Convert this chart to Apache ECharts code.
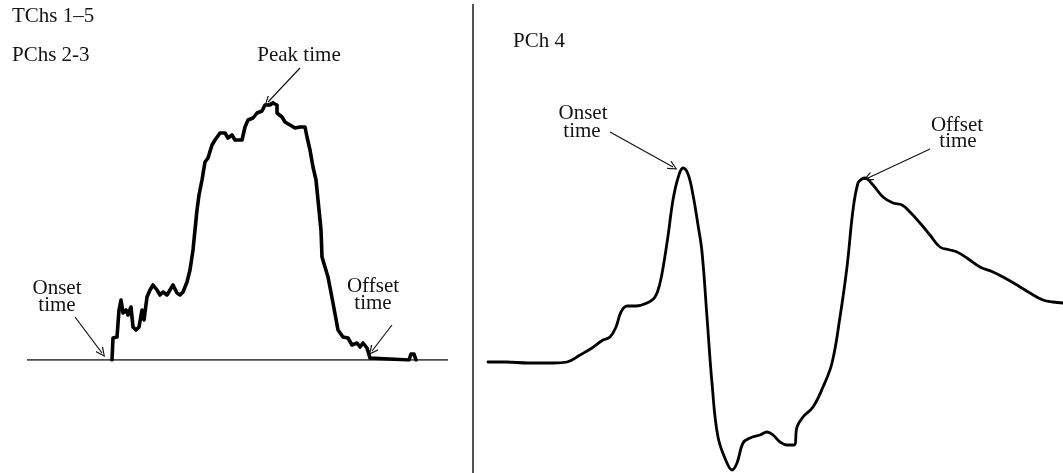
<!DOCTYPE html>
<html>
<head>
<meta charset="utf-8">
<script src="https://cdn.jsdelivr.net/npm/echarts@6/dist/echarts.min.js"></script>
<style>
html,body{margin:0;padding:0;background:#fff;}
#chart{width:1063px;height:473px;}
</style>
</head>
<body>
<div id="chart"></div>
<script>
// ---- Left panel (TChs 1–5 / PChs 2-3): stepped envelope ----
const leftTime = [85,86,90,92,94,96,99,101,104,106,109,112,115,117,120,123,126,130,133,136,140,143,146,150,153,156,160,163,166,168,170,172,175,178,181,185,188,193,198,201,205,208,215,218,221,226,230,235,238,243,246,250,250,255,258,263,268,273,278,280,283,286,289,291,294,295,301,306,311,316,321,325,330,333,336,340,343,345,382,384,387,389];
const leftAmp  = [0,22,23,50,60,47,50,45,53,33,30,33,50,40,63,70,75,70,65,68,65,70,75,67,65,68,78,90,110,130,150,165,180,198,202,215,220,227,227,222,225,220,220,233,240,242,247,249,255,255,257,255,247,243,238,235,232,233,233,223,210,193,180,160,130,103,83,57,30,23,22,15,17,13,17,12,2,0,0,6,6,0];
const leftBaseTime = [0,421];
const leftBaseAmp  = [0,0];

// ---- Right panel (PCh 4): smooth waveform ----
const rightTime = [1,19,41,67,80,93,105,116,123,129,134,140,149,160,168,173,177,181,186,191,196,201,206,211,215,220,225,231,240,245,250,256,263,273,280,286,293,300,307,310,316,326,336,345,353,360,366,371,375,378,386,396,406,415,423,433,443,453,463,470,480,493,506,516,530,543,556,566,576];
const rightAmp  = [0,0,-1,-1,0,7,14,22,25,35,50,56,56,59,65,79,100,126,162,184,194,188,167,137,110,45,-21,-75,-101,-108,-101,-81,-76,-73,-70,-73,-80,-83,-83,-65,-55,-45,-25,-1,45,95,152,179,183,184,177,165,159,157,150,139,127,115,112,110,104,95,90,85,77,69,62,60,59];

// ---- Annotations (arrow start -> arrow tip, in data units) ----
const leftArrows = [
  [[273,292],[241,258]],   // Peak time
  [[48,43],[75,7]],        // Onset time
  [[365,35],[345,9]]       // Offset time
];
const rightArrows = [
  [[123,230],[186,195]],   // Onset time
  [[443,213],[381,184]]    // Offset time
];
const panelTitles = ['TChs 1–5', 'PChs 2-3', 'PCh 4'];

const zip = (a, b) => a.map((v, i) => [v, b[i]]);
const chevron = 'path://M5,0 L10,10 L8.9,10.9 L5,2.6 L1.1,10.9 L0,10 Z';
const FONT = '21px "Liberation Serif", "DejaVu Serif", serif';
const INK = '#141414';

function arrowLines(list) {
  return {
    silent: true,
    symbol: ['none', chevron],
    symbolSize: [9, 10],
    label: { show: false },
    lineStyle: { color: INK, width: 1.2, type: 'solid' },
    emphasis: { disabled: true },
    data: list.map(p => [{ coord: p[0] }, { coord: p[1] }])
  };
}

function txt(text, x, y, align) {
  return {
    type: 'text', x: x, y: y, silent: true,
    style: { text: text, font: FONT, fill: INK, align: align || 'left', verticalAlign: 'middle' }
  };
}

const chart = echarts.init(document.getElementById('chart'), null, { renderer: 'canvas' });
const hiddenAxis = { show: false, axisLine: { show: false }, axisTick: { show: false }, axisLabel: { show: false }, splitLine: { show: false } };

chart.setOption({
  animation: false,
  backgroundColor: '#ffffff',
  grid: [
    { left: 27, top: 0, width: 421, height: 360 },
    { left: 487, top: 0, width: 576, height: 473 }
  ],
  xAxis: [
    Object.assign({ type: 'value', gridIndex: 0, min: 0, max: 421 }, hiddenAxis),
    Object.assign({ type: 'value', gridIndex: 1, min: 0, max: 576 }, hiddenAxis)
  ],
  yAxis: [
    Object.assign({ type: 'value', gridIndex: 0, min: 0, max: 360 }, hiddenAxis),
    Object.assign({ type: 'value', gridIndex: 1, min: -111, max: 362 }, hiddenAxis)
  ],
  series: [
    {
      name: 'baseline', type: 'line', xAxisIndex: 0, yAxisIndex: 0,
      data: zip(leftBaseTime, leftBaseAmp), symbol: 'none', silent: true,
      lineStyle: { color: INK, width: 1.6 }
    },
    {
      name: 'TChs envelope', type: 'line', xAxisIndex: 0, yAxisIndex: 0,
      data: zip(leftTime, leftAmp), symbol: 'none', silent: true,
      lineStyle: { color: '#000', width: 3.6, join: 'round', cap: 'round' },
      markLine: arrowLines(leftArrows)
    },
    {
      name: 'PCh 4', type: 'line', xAxisIndex: 1, yAxisIndex: 1,
      data: zip(rightTime, rightAmp), symbol: 'none', silent: true,
      smooth: 0.4,
      lineStyle: { color: '#000', width: 2.8, join: 'round', cap: 'round' },
      markLine: arrowLines(rightArrows)
    }
  ],
  graphic: [
    { type: 'line', silent: true, shape: { x1: 473, y1: 4, x2: 473, y2: 473 }, style: { stroke: '#555', lineWidth: 2 } },
    txt(panelTitles[0], 12, 16),
    txt(panelTitles[1], 12, 55),
    txt('Peak time', 299, 55, 'center'),
    txt('Onset', 57, 288, 'center'),
    txt('time', 57, 305, 'center'),
    txt('Offset', 373, 286, 'center'),
    txt('time', 373, 303, 'center'),
    txt(panelTitles[2], 513, 41),
    txt('Onset', 583, 113, 'center'),
    txt('time', 582, 131, 'center'),
    txt('Offset', 957, 125, 'center'),
    txt('time', 958, 141, 'center')
  ]
});
</script>
</body>
</html>
